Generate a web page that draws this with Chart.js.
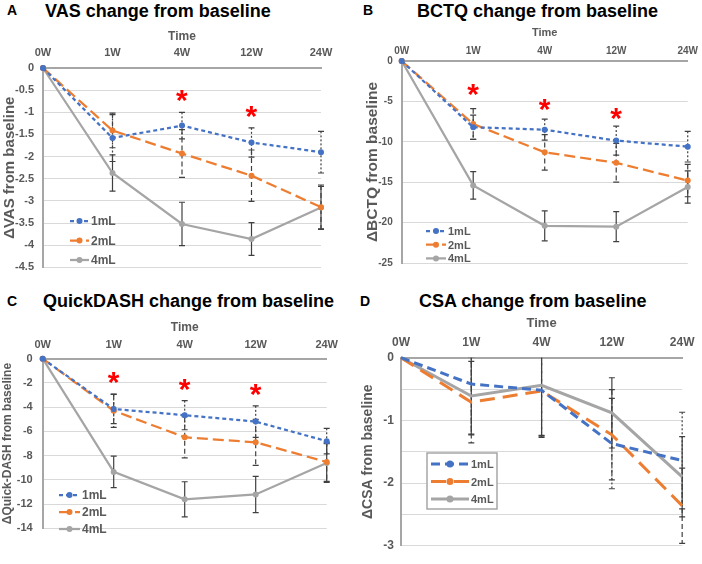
<!DOCTYPE html>
<html>
<head>
<meta charset="utf-8">
<script src="https://cdn.jsdelivr.net/npm/chart.js@4.4.1/dist/chart.umd.min.js"></script>
<style>
  body { margin: 0; background: #fff; width: 702px; height: 564px; position: relative; overflow: hidden;
         font-family: 'Liberation Sans', Arial, sans-serif; }
  .pane { position: absolute; }
  .letter { position: absolute; font-weight: bold; font-size: 14px; line-height: 14px; color: #000; }
  .title { position: absolute; font-weight: bold; font-size: 18px; line-height: 18px; white-space: nowrap; color: #000; }
</style>
</head>
<body>
<div class="letter" style="left:7px;top:3px">A</div>
<div class="title" style="left:45px;top:2px">VAS change from baseline</div>
<div class="letter" style="left:363px;top:3px">B</div>
<div class="title" style="left:417px;top:2px">BCTQ change from baseline</div>
<div class="letter" style="left:7px;top:294px">C</div>
<div class="title" style="left:43px;top:292px">QuickDASH change from baseline</div>
<div class="letter" style="left:360px;top:294px">D</div>
<div class="title" style="left:419px;top:292px">CSA change from baseline</div>

<div class="pane" id="paneA"><canvas id="chartA"></canvas></div>
<div class="pane" id="paneB"><canvas id="chartB"></canvas></div>
<div class="pane" id="paneC"><canvas id="chartC"></canvas></div>
<div class="pane" id="paneD"><canvas id="chartD"></canvas></div>

<script>
const weeks = ['0W', '1W', '4W', '12W', '24W'];
const doses = ['1mL', '2mL', '4mL'];

// A - VAS
const vas1mL = [0, -1.58, -1.30, -1.68, -1.90];
const vas2mL = [0, -1.41, -1.93, -2.43, -3.14];
const vas4mL = [0, -2.37, -3.52, -3.86, -3.15];
const vasErr1mL = [0, 0.53, 0.30, 0.33, 0.47];
const vasErr2mL = [0, 0.39, 0.54, 0.58, 0.50];
const vasErr4mL = [0, 0.41, 0.49, 0.37, 0.48];
const vasStarWeeks = ['4W', '12W'];
const vasStarY = [-0.63, -0.99];

// B - BCTQ
const bctq1mL = [0, -8.2, -8.5, -9.85, -10.6];
const bctq2mL = [0, -7.8, -11.3, -12.6, -14.8];
const bctq4mL = [0, -15.4, -20.4, -20.5, -15.6];
const bctqErr1mL = [0, 1.5, 1.3, 1.8, 1.9];
const bctqErr2mL = [0, 1.9, 2.2, 2.4, 2.0];
const bctqErr4mL = [0, 1.7, 1.85, 1.85, 2.0];
const bctqStarWeeks = ['1W', '4W', '12W'];
const bctqStarY = [-3.65, -5.4, -6.5];

// C - QuickDASH
const dash1mL = [0, -4.15, -4.66, -5.19, -6.8];
const dash2mL = [0, -4.29, -6.48, -6.9, -8.52];
const dash4mL = [0, -9.34, -11.6, -11.2, -8.6];
const dashErr1mL = [0, 1.2, 1.2, 1.3, 1.06];
const dashErr2mL = [0, 1.37, 1.7, 1.9, 1.6];
const dashErr4mL = [0, 1.3, 1.45, 1.5, 1.6];
const dashStarWeeks = ['1W', '4W', '12W'];
const dashStarY = [-1.6, -2.17, -2.6];

// D - CSA
const csa1mL = [0, -0.42, -0.52, -1.37, -1.64];
const csa2mL = [0, -0.71, -0.53, -1.23, -2.36];
const csa4mL = [0, -0.61, -0.44, -0.88, -1.90];
const csaErr1mL = [0, 0.8, 0.75, 0.72, 0.77];
const csaErr2mL = [0, 0.65, 0.72, 0.72, 0.6];
const csaErr4mL = [0, 0.62, 0.8, 0.56, 0.64];

const FONT = "'Liberation Sans', Arial, sans-serif";
const colors = ['#4472C4', '#ED7D31', '#A5A5A5'];
const grey = '#595959';
const errDashes = [[2, 2], [5, 3], []];

const errorBarPlugin = {
  id: 'errorBars',
  beforeDatasetsDraw(chart) {
    const {ctx, chartArea: a, scales: {y}} = chart;
    ctx.save();
    ctx.beginPath();
    ctx.rect(a.left - 30, a.top, a.right - a.left + 60, a.bottom - a.top);
    ctx.clip();
    ctx.strokeStyle = '#404040';
    ctx.lineWidth = 1.2;
    chart.data.datasets.forEach((ds, di) => {
      const meta = chart.getDatasetMeta(di);
      ds.data.forEach((v, i) => {
        const e = ds.errors[i];
        if (!e) return;
        const x = meta.data[i].x;
        const y1 = y.getPixelForValue(v + e);
        const y2 = y.getPixelForValue(v - e);
        ctx.setLineDash(errDashes[di]);
        ctx.beginPath();
        ctx.moveTo(x, y1);
        ctx.lineTo(x, y2);
        ctx.stroke();
        ctx.setLineDash([]);
        ctx.beginPath();
        ctx.moveTo(x - 3, y1); ctx.lineTo(x + 3, y1);
        ctx.moveTo(x - 3, y2); ctx.lineTo(x + 3, y2);
        ctx.stroke();
      });
    });
    ctx.restore();
  }
};

const starPlugin = {
  id: 'stars',
  afterDatasetsDraw(chart, args, opts) {
    if (!opts.weeks) return;
    const {ctx, scales: {x, y}} = chart;
    ctx.save();
    ctx.fillStyle = '#FF0000';
    ctx.font = 'bold 30px ' + FONT;
    ctx.textAlign = 'left';
    ctx.textBaseline = 'alphabetic';
    const m = ctx.measureText('*');
    opts.weeks.forEach((w, i) => {
      const cx = x.getPixelForValue(weeks.indexOf(w));
      const cy = y.getPixelForValue(opts.values[i]);
      const bx = cx - (m.actualBoundingBoxRight - m.actualBoundingBoxLeft) / 2 + m.actualBoundingBoxLeft;
      const by = cy + (m.actualBoundingBoxAscent - m.actualBoundingBoxDescent) / 2;
      ctx.fillText('*', bx, by);
    });
    ctx.restore();
  }
};

const legendPlugin = {
  id: 'doseLegend',
  afterDatasetsDraw(chart, args, o) {
    const ctx = chart.ctx;
    ctx.save();
    if (o.box) {
      ctx.fillStyle = '#fff';
      ctx.strokeStyle = '#A6A6A6';
      ctx.lineWidth = 1.5;
      ctx.fillRect(o.box[0], o.box[1], o.box[2], o.box[3]);
      ctx.strokeRect(o.box[0], o.box[1], o.box[2], o.box[3]);
    }
    chart.data.datasets.forEach((ds, i) => {
      const yy = o.y + i * o.gap;
      ctx.strokeStyle = ds.borderColor;
      ctx.lineWidth = ds.borderWidth;
      ctx.setLineDash(ds.borderDash);
      ctx.beginPath();
      ctx.moveTo(o.x, yy);
      ctx.lineTo(o.x + o.len, yy);
      ctx.stroke();
      ctx.setLineDash([]);
      ctx.fillStyle = ds.borderColor;
      ctx.beginPath();
      ctx.arc(o.x + o.len / 2, yy, o.radius, 0, Math.PI * 2);
      ctx.fill();
      ctx.fillStyle = grey;
      ctx.font = o.weight + ' ' + o.size + 'px ' + FONT;
      ctx.textBaseline = 'middle';
      ctx.fillText(ds.label, o.x + o.len + 2, yy + 1);
    });
    ctx.restore();
  }
};

function buildPanel(p) {
  const pane = document.getElementById('pane' + p.id);
  const [bx, by, bw, bh] = p.box;
  const [l, t, r, b] = p.area;
  Object.assign(pane.style, {left: bx + 'px', top: by + 'px', width: bw + 'px', height: bh + 'px'});
  const tickFont = {family: FONT, size: p.tickSize, weight: 'bold'};
  const scaleTop = p.timeY - p.timeSize * 0.6;
  const xHeight = t - scaleTop;
  const yWidth = l - bx;
  const datasets = p.series.map((data, i) => ({
    label: doses[i],
    data: data,
    errors: p.errors[i],
    borderColor: colors[i],
    backgroundColor: colors[i],
    borderWidth: p.lineWidth,
    borderDash: p.dashes[i],
    pointRadius: p.pointRadius,
    pointBorderWidth: 0,
    pointBackgroundColor: colors[i],
    tension: 0,
    clip: false
  }));
  const lg = p.legend;
  return new Chart(document.getElementById('chart' + p.id), {
    type: 'line',
    data: {labels: weeks, datasets: datasets},
    options: {
      responsive: true,
      maintainAspectRatio: false,
      animation: false,
      layout: {padding: {left: 0, top: scaleTop - by, right: bx + bw - r, bottom: by + bh - b}},
      plugins: {
        legend: {display: false},
        tooltip: {enabled: false},
        stars: {weeks: p.starWeeks, values: p.starY},
        doseLegend: {
          x: lg.x - bx, y: lg.y - by, gap: lg.gap, len: lg.len, radius: lg.radius,
          size: lg.size, weight: lg.weight,
          box: lg.box ? [lg.box[0] - bx, lg.box[1] - by, lg.box[2], lg.box[3]] : null
        }
      },
      scales: {
        x: {
          position: 'top',
          offset: false,
          grid: {display: false, drawTicks: false},
          border: {color: '#A6A6A6', width: 2},
          ticks: {color: grey, font: tickFont, padding: p.xPad, maxRotation: 0, autoSkip: false},
          title: {display: true, text: 'Time', color: grey, padding: 0,
                  font: {family: FONT, size: p.timeSize, weight: 'bold'}},
          afterFit: s => { s.height = xHeight; }
        },
        y: {
          min: p.yMin,
          max: 0,
          grid: {color: '#D9D9D9', drawTicks: false},
          border: {color: '#A6A6A6', width: 2},
          ticks: {stepSize: p.yStep, color: grey, font: tickFont, padding: p.yPad,
                  callback: v => (p.intOnly && !Number.isInteger(v)) ? '' : String(v)},
          title: {display: true, text: p.yTitle, color: grey,
                  font: {family: FONT, size: p.yTitleSize, weight: 'bold'},
                  padding: {top: p.yTitleX - bx - p.yTitleSize * 0.6, bottom: 0}},
          afterFit: s => { s.width = yWidth; }
        }
      }
    },
    plugins: [errorBarPlugin, starPlugin, legendPlugin]
  });
}

buildPanel({
  id: 'A', box: [0, 25, 345, 258], area: [43, 68, 321, 273],
  timeY: 37, timeSize: 12, tickSize: 11, xPad: 8, yPad: 9,
  yMin: -4.5, yStep: 0.5, yTitle: 'ΔVAS from baseline', yTitleSize: 15, yTitleX: 10,
  series: [vas1mL, vas2mL, vas4mL], errors: [vasErr1mL, vasErr2mL, vasErr4mL],
  starWeeks: vasStarWeeks, starY: vasStarY,
  lineWidth: 2.25, dashes: [[4, 3], [11, 5], []], pointRadius: 3,
  legend: {x: 70, y: 221, gap: 19.5, len: 19, radius: 3, size: 12, weight: 'bold'}
});

buildPanel({
  id: 'B', box: [351, 20, 351, 258], area: [401.7, 61, 689.3, 270.7],
  timeY: 33, timeSize: 11, tickSize: 10, xPad: 4, yPad: 9,
  yMin: -25, yStep: 5, yTitle: 'ΔBCTQ from baseline', yTitleSize: 15.5, yTitleX: 372.7,
  series: [bctq1mL, bctq2mL, bctq4mL], errors: [bctqErr1mL, bctqErr2mL, bctqErr4mL],
  starWeeks: bctqStarWeeks, starY: bctqStarY,
  lineWidth: 2.25, dashes: [[4, 3], [11, 5], []], pointRadius: 3,
  legend: {x: 426, y: 231, gap: 13.7, len: 20, radius: 3, size: 11, weight: 'bold'}
});

buildPanel({
  id: 'C', box: [0, 315, 345, 230], area: [42.7, 358.7, 327.7, 535],
  timeY: 328, timeSize: 12, tickSize: 11, xPad: 7, yPad: 10,
  yMin: -14, yStep: 2, yTitle: 'ΔQuick-DASH from baseline', yTitleSize: 12, yTitleX: 8,
  series: [dash1mL, dash2mL, dash4mL], errors: [dashErr1mL, dashErr2mL, dashErr4mL],
  starWeeks: dashStarWeeks, starY: dashStarY,
  lineWidth: 2.25, dashes: [[4, 3], [11, 5], []], pointRadius: 3,
  legend: {x: 59, y: 495, gap: 17, len: 21, radius: 3, size: 12, weight: 'bold'}
});

buildPanel({
  id: 'D', box: [351, 312, 351, 248], area: [401, 357.7, 686, 550],
  timeY: 323, timeSize: 13, tickSize: 12, xPad: 7.5, yPad: 7,
  yMin: -3, yStep: 0.5, intOnly: true, yTitle: 'ΔCSA from baseline', yTitleSize: 14, yTitleX: 368,
  series: [csa1mL, csa2mL, csa4mL], errors: [csaErr1mL, csaErr2mL, csaErr4mL],
  starWeeks: null, starY: null,
  lineWidth: 3, dashes: [[9, 5], [15, 8], []], pointRadius: 0,
  legend: {x: 431, y: 464, gap: 17.5, len: 38, radius: 3.5, size: 11, weight: 'bold',
           box: [427, 453, 70, 56]}
});
</script>
</body>
</html>
